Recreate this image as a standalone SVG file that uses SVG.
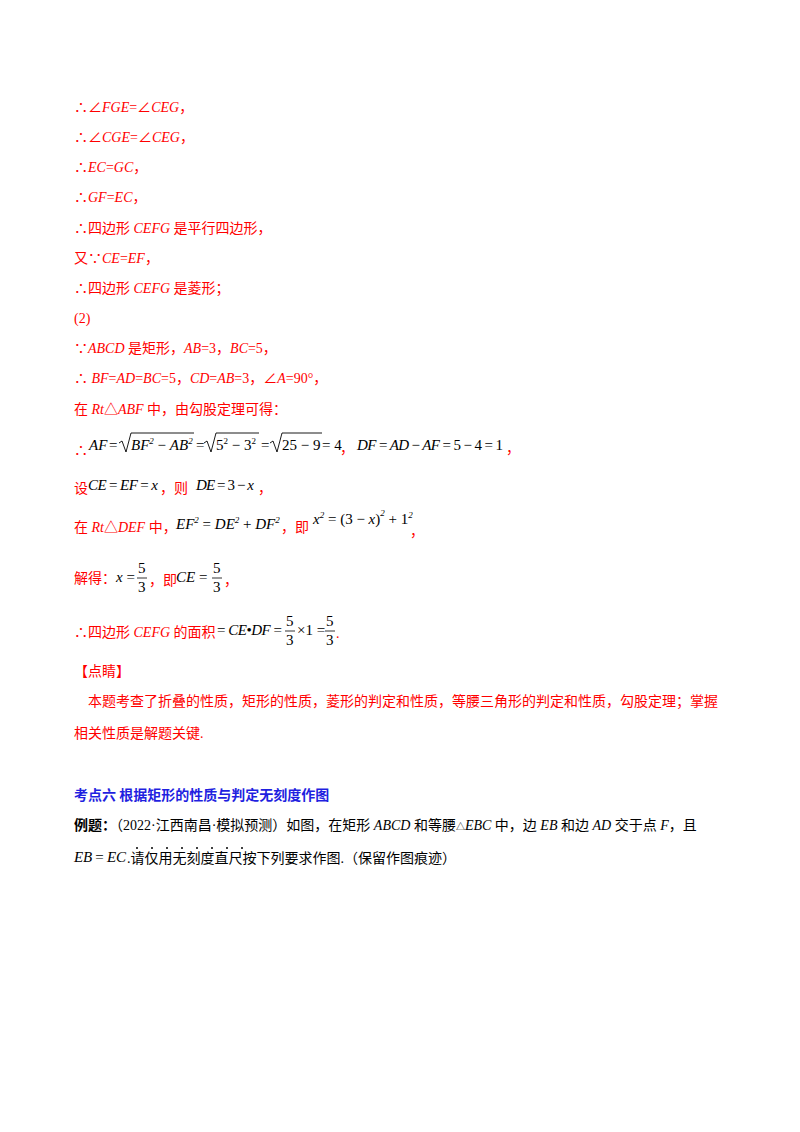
<svg xmlns="http://www.w3.org/2000/svg" width="800" height="1132" viewBox="0 0 800 1132">
<style>
text{font-family:"Liberation Serif","Noto Sans CJK SC",serif;font-size:14px}
.r{fill:#ff0000}
.i{font-style:italic}
.m{fill:#000;font-style:italic;font-size:15px}
.n{fill:#000;font-size:15px;font-style:normal}
.s{font-size:9px}
.k{fill:#000}
.b{font-family:"Noto Sans CJK SC",sans-serif;font-weight:bold;fill:#1f1fe0;font-size:14px}
line{stroke:#000;stroke-width:0.8}
</style>
<rect width="800" height="1132" fill="#fff"/>
<g id="text">
<text class="r" x="74" y="112">∴∠<tspan class="i">FGE</tspan>=∠<tspan class="i">CEG</tspan>，</text>
<text class="r" x="74" y="142">∴∠<tspan class="i">CGE</tspan>=∠<tspan class="i">CEG</tspan>，</text>
<text class="r" x="74" y="172">∴<tspan class="i">EC</tspan>=<tspan class="i">GC</tspan>，</text>
<text class="r" x="74" y="202">∴<tspan class="i">GF</tspan>=<tspan class="i">EC</tspan>，</text>
<text class="r" x="74" y="233">∴四边形 <tspan class="i">CEFG</tspan> 是平行四边形，</text>
<text class="r" x="74" y="263">又∵<tspan class="i">CE</tspan>=<tspan class="i">EF</tspan>，</text>
<text class="r" x="74" y="293">∴四边形 <tspan class="i">CEFG</tspan> 是菱形；</text>
<text class="r" x="74" y="323">(2)</text>
<text class="r" x="74" y="353">∵<tspan class="i">ABCD</tspan> 是矩形，<tspan class="i">AB</tspan>=3，<tspan class="i">BC</tspan>=5，</text>
<text class="r" x="74" y="383">∴ <tspan class="i">BF</tspan>=<tspan class="i">AD</tspan>=<tspan class="i">BC</tspan>=5，<tspan class="i">CD</tspan>=<tspan class="i">AB</tspan>=3，∠<tspan class="i">A</tspan>=90°，</text>
<text class="r" x="74" y="414">在 <tspan class="i">Rt</tspan>△<tspan class="i">ABF</tspan> 中，由勾股定理可得：</text>
<text class="r" x="74" y="455">∴</text>
<text class="m" x="89" y="450">AF</text><text class="n" x="109" y="450">=</text>
<path d="M119 443 l3 -2 l4 11 l5 -19 h63 M204 443 l3 -2 l4 11 l5 -19 h43 M270 443 l3 -2 l4 11 l5 -19 h40" fill="none" stroke="#000" stroke-width="0.9"/>
<text class="m" x="131" y="450">BF<tspan class="s" dy="-6">2</tspan><tspan dy="6" class="n"> − </tspan>AB<tspan class="s" dy="-6">2</tspan></text>
<text class="n" x="196" y="450">=</text>
<text class="n" x="216" y="450">5<tspan class="s" dy="-6">2</tspan><tspan dy="6"> − 3</tspan><tspan class="s" dy="-6">2</tspan></text>
<text class="n" x="261" y="450">=</text>
<text class="n" x="282" y="450">25 − 9</text>
<text class="n" x="322" y="450">= 4</text>
<text class="r" x="340" y="453">，</text>
<text class="m" x="357" y="450" textLength="146" lengthAdjust="spacing">DF <tspan class="n">=</tspan> AD <tspan class="n">−</tspan> AF <tspan class="n">= 5 − 4 = 1</tspan></text>
<text class="r" x="506" y="453">，</text>
<text class="r" x="74" y="493">设</text>
<text class="m" x="88" y="490" textLength="70" lengthAdjust="spacing">CE <tspan class="n">=</tspan> EF <tspan class="n">=</tspan> x</text>
<text class="r" x="160" y="493">，则</text>
<text class="m" x="196" y="490" textLength="58" lengthAdjust="spacing">DE <tspan class="n">= 3 −</tspan> x</text>
<text class="r" x="258" y="493">，</text>
<text class="r" x="74" y="532">在 <tspan class="i">Rt</tspan>△<tspan class="i">DEF</tspan> 中，</text>
<text class="m" x="176" y="529">EF<tspan class="s" dy="-6">2</tspan><tspan dy="6" class="n"> = </tspan>DE<tspan class="s" dy="-6">2</tspan><tspan dy="6" class="n"> + </tspan>DF<tspan class="s" dy="-6">2</tspan></text>
<text class="r" x="281" y="532">，即</text>
<text class="m" x="313" y="524">x<tspan class="s" dy="-6">2</tspan><tspan dy="6" class="n"> = (3 − </tspan>x<tspan class="n">)</tspan><tspan class="s" dy="-8">2</tspan><tspan dy="8" class="n"> + 1</tspan><tspan class="s" dy="-6">2</tspan></text>
<text class="r" x="410" y="536">，</text>
<text class="r" x="74" y="583">解得：</text>
<text class="m" x="116" y="582">x <tspan class="n">=</tspan></text>
<text class="n" x="138" y="573">5</text><line x1="137" y1="578" x2="147" y2="578"/><text class="n" x="138" y="592">3</text>
<text class="r" x="149" y="585">，即</text>
<text class="m" x="176" y="582">CE <tspan class="n">=</tspan></text>
<text class="n" x="213" y="573">5</text><line x1="212" y1="578" x2="222" y2="578"/><text class="n" x="213" y="592">3</text>
<text class="r" x="224" y="585">，</text>
<text class="r" x="74" y="637">∴四边形 <tspan class="i">CEFG</tspan> 的面积</text>
<text class="m" x="217" y="635" textLength="65" lengthAdjust="spacing"><tspan class="n">=</tspan> CE<tspan class="n">•</tspan>DF <tspan class="n">=</tspan></text>
<text class="n" x="286" y="626">5</text><line x1="285" y1="631" x2="295" y2="631"/><text class="n" x="286" y="645">3</text>
<text class="n" x="297" y="635">×1 =</text>
<text class="n" x="326" y="626">5</text><line x1="325" y1="631" x2="335" y2="631"/><text class="n" x="326" y="645">3</text>
<text class="r" x="336" y="638">.</text>
<text class="r" x="74" y="676">【点睛】</text>
<text class="r" x="88" y="706">本题考查了折叠的性质，矩形的性质，菱形的判定和性质，等腰三角形的判定和性质，勾股定理；掌握</text>
<text class="r" x="74" y="738">相关性质是解题关键.</text>
<text class="b" x="74" y="800">考点六  根据矩形的性质与判定无刻度作图</text>
<text class="k" x="74" y="830"><tspan font-weight="bold" font-family="Noto Sans CJK SC,sans-serif">例题：</tspan>（2022·江西南昌·模拟预测）如图，在矩形 <tspan class="i">ABCD</tspan> 和等腰<tspan font-size="9">△</tspan><tspan class="i">EBC</tspan> 中，边 <tspan class="i">EB</tspan> 和边 <tspan class="i">AD</tspan> 交于点 <tspan class="i">F</tspan>，且</text>
<text class="m" x="74" y="862" textLength="52" lengthAdjust="spacing">EB <tspan class="n">=</tspan> EC</text>
<g fill="#000"><circle cx="137" cy="848" r="1"/><circle cx="152" cy="848" r="1"/><circle cx="167" cy="848" r="1"/><circle cx="182" cy="848" r="1"/><circle cx="197" cy="848" r="1"/><circle cx="212" cy="848" r="1"/><circle cx="227" cy="848" r="1"/><circle cx="242" cy="848" r="1"/></g>
<text class="k" x="127" y="863">.请仅用无刻度直尺按下列要求作图.（保留作图痕迹）</text>
</g>
</svg>
